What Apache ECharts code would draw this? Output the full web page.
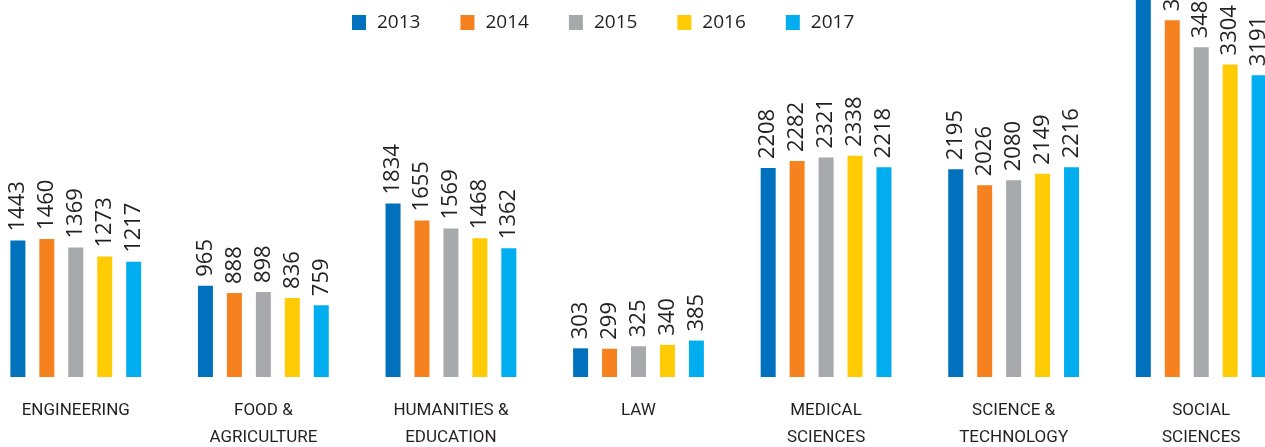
<!DOCTYPE html>
<html>
<head>
<meta charset="utf-8">
<script src="https://cdn.jsdelivr.net/npm/echarts@6/dist/echarts.min.js"></script>
<style>
  html, body { margin: 0; padding: 0; background: #fff; overflow: hidden; }
  /* the reference is a crop of a larger chart, so the chart box sticks out of the window */
  #main { position: absolute; left: -18px; top: -96px; width: 1313px; height: 543px; }
</style>
</head>
<body>
<div id="main"></div>
<script>
var categories = ['ENGINEERING', 'FOOD &\nAGRICULTURE', 'HUMANITIES &\nEDUCATION', 'LAW',
  'MEDICAL\nSCIENCES', 'SCIENCE &\nTECHNOLOGY', 'SOCIAL\nSCIENCES'];
var years = ['2013', '2014', '2015', '2016', '2017'];
// social sciences 2013/2014/2015 are cut off in the picture
var y2013 = [1443, 965, 1834, 303, 2208, 2195, 4100];
var y2014 = [1460, 888, 1655, 299, 2282, 2026, 3772];
var y2015 = [1369, 898, 1569, 325, 2321, 2080, 3485];
var y2016 = [1273, 836, 1468, 340, 2338, 2149, 3304];
var y2017 = [1217, 759, 1362, 385, 2218, 2216, 3191];
var colors = ['#0071bc', '#f5821f', '#a7a9ac', '#ffcb05', '#00aeef'];

var seriesData = [y2013, y2014, y2015, y2016, y2017];

var chart = echarts.init(document.getElementById('main'));

var series = years.map(function (y, i) {
  return {
    name: y,
    type: 'bar',
    data: seriesData[i],
    barWidth: 15,
    barGap: '93%',
    itemStyle: { color: colors[i] },
    label: {
      show: true,
      position: 'top',
      rotate: 90,
      align: 'left',
      verticalAlign: 'middle',
      distance: 9,
      fontFamily: 'Open Sans',
      fontSize: 22,
      color: '#231f20'
    }
  };
});

var option = {
  animation: false,
  color: colors,
  legend: {
    data: years,
    top: 104,
    left: 365,
    itemWidth: 14,
    itemHeight: 15,
    itemGap: 40,
    icon: 'rect',
    textStyle: {
      fontFamily: 'Open Sans',
      fontSize: 19,
      color: '#231f20',
      padding: [0, 0, 0, 6]
    }
  },
  grid: {
    left: 0,
    right: 0,
    top: 0,
    bottom: 70,
    outerBoundsMode: 'none'
  },
  xAxis: {
    type: 'category',
    data: categories,
    axisLine: { show: false },
    axisTick: { show: false },
    axisLabel: {
      interval: 0,
      margin: 20,
      fontFamily: 'Roboto',
      fontSize: 17,
      lineHeight: 27,
      color: '#231f20'
    }
  },
  yAxis: {
    type: 'value',
    min: 0,
    max: 5000,
    show: false,
    splitLine: { show: false }
  },
  series: series
};

chart.setOption(option);
</script>
</body>
</html>
